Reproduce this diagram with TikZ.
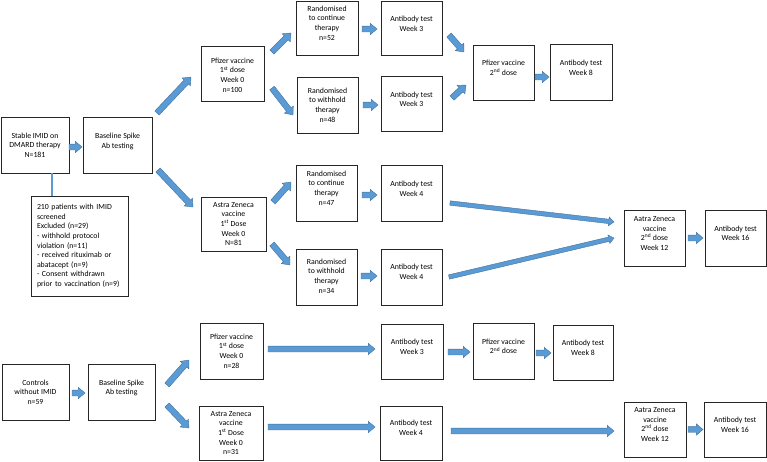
\documentclass[tikz,border=0pt]{standalone}
\usepackage{fontspec}
\setmainfont{Carlito}
\usetikzlibrary{calc,shapes.arrows}
\definecolor{arrfill}{RGB}{91,155,213}
\definecolor{arrline}{RGB}{65,113,156}
\tikzset{
  box/.style={draw=black!85, line width=0.8pt, inner sep=0pt, outer sep=0pt, font=\fontsize{7.8}{9.6}\selectfont},
  barrow/.style={single arrow, fill=arrfill, draw=arrline, line width=0.4pt, inner sep=0pt, outer sep=0pt,
    inner ysep=2.75pt, single arrow head extend=2.75pt, single arrow tip angle=80, anchor=tail},
  thinarrow/.style={inner ysep=2pt, single arrow head extend=2.2pt},
  link/.style={draw=arrfill, line width=1.3pt},
}
\newcommand\bx[7]{%
  \pgfmathsetmacro\bw{#4-#2}\pgfmathsetmacro\bh{#5-#3}%
  \node[box] (#1) at ({(#2+#4)/2},{(#3+#5)/2}) {\parbox[c][\bh pt][c]{\bw pt}{\centering #7\par\vspace{#6pt}}};}
\newcommand\blk[3][]{\path let \p1=#2, \p2=#3, \n1={atan2(\y2-\y1,\x2-\x1)}, \n2={veclen(\x2-\x1,\y2-\y1)} in node[barrow,#1,minimum height=\n2,rotate=\n1] at (\p1) {};}
\begin{document}
\begin{tikzpicture}[x=1pt,y=-1pt]
\useasboundingbox (0,0) rectangle (767,461);
% ---- top section
\bx{st}{1}{117}{69}{173}{0}{Stable IMID on\\DMARD therapy\\N=181}
\bx{bl}{83}{117}{152}{173}{7}{Baseline Spike\\Ab testing}
\node[box, minimum width=97pt, minimum height=100pt, text width=85pt, align=left] (ex) at (79.5,246)
  {210 patients with IMID\\screened\\Excluded (n=29)\\- withhold protocol\\violation (n=11)\\- received rituximab or\\abatacept (n=9)\\- Consent withdrawn\\prior to vaccination (n=9)};
\bx{pf}{201}{46}{264}{101}{-3}{Pfizer vaccine\\1\textsuperscript{st} dose\\Week 0\\n=100}
\bx{rc}{296}{1}{358}{55}{10}{Randomised\\to continue\\therapy\\n=52}
\bx{a3a}{381}{1}{442}{55}{8}{Antibody test\\Week 3}
\bx{rw}{297}{77}{358}{133}{0}{Randomised\\to withhold\\therapy\\n=48}
\bx{a3b}{381}{76}{442}{131}{8}{Antibody test\\Week 3}
\bx{p2}{473}{45}{534}{100}{9}{Pfizer vaccine\\2\textsuperscript{nd} dose}
\bx{a8}{550}{44}{612}{100}{8}{Antibody test\\Week 8}
\bx{az}{201}{197}{266}{251}{0}{Astra Zeneca\\vaccine\\1\textsuperscript{st} Dose\\Week 0\\N=81}
\bx{rc2}{296}{165}{357}{221}{10}{Randomised\\to continue\\therapy\\n=47}
\bx{a4a}{381}{165}{442}{221}{8}{Antibody test\\Week 4}
\bx{rw2}{296}{249}{357}{305}{2}{Randomised\\to withhold\\therapy\\n=34}
\bx{a4b}{381}{249}{442}{305}{10}{Antibody test\\Week 4}
\bx{az2}{624}{210}{685}{266}{9}{Aatra Zeneca\\vaccine\\2\textsuperscript{nd} dose\\Week 12}
\bx{a16}{705}{210}{766}{266}{9}{Antibody test\\Week 16}
% ---- bottom section
\bx{ct}{2}{364}{69}{420}{0}{Controls\\without IMID\\n=59}
\bx{bl2}{88}{364}{155}{420}{8}{Baseline Spike\\Ab testing}
\bx{pfb}{200}{323}{263}{379}{0}{Pfizer vaccine\\1\textsuperscript{st} dose\\Week 0\\n=28}
\bx{azb}{199}{406}{263}{460}{0}{Astra Zeneca\\vaccine\\1\textsuperscript{st} Dose\\Week 0\\n=31}
\bx{a3c}{381}{324}{443}{379}{9}{Antibody test\\Week 3}
\bx{p2b}{473}{323}{534}{379}{9}{Pfizer vaccine\\2\textsuperscript{nd} dose}
\bx{a8b}{553}{325}{613}{380}{9}{Antibody test\\Week 8}
\bx{a4c}{380}{406}{442}{460}{10}{Antibody test\\Week 4}
\bx{az2b}{624}{402}{686}{457}{10}{Aatra Zeneca\\vaccine\\2\textsuperscript{nd} dose\\Week 12}
\bx{a16b}{704}{402}{766}{457}{9}{Antibody test\\Week 16}
% ---- link to exclusion box
\draw[link] ($(st.south)+(17,0)$) -- ($(ex.north)+(-27.5,0)$);
% ---- arrows top
\blk{($(st.east)+(0,2)$)}{($(bl.west)+(-1,2)$)}
\blk{($(bl.north east)+(5,-4)$)}{($(pf.west)+(-10,3.5)$)}
\blk{($(bl.south east)+(6,-3)$)}{($(az.west)+(-8,-17)$)}
\blk{($(pf.north east)+(8,6)$)}{($(rc.west)+(-5,5)$)}
\blk{($(pf.south east)+(8,-13)$)}{($(rw.west)+(-4,10)$)}
\blk{($(rc.east)+(4,1)$)}{($(a3a.west)+(-4,1)$)}
\blk{($(rw.east)+(5,0)$)}{($(a3b.west)+(-3,1.5)$)}
\blk{($(a3a.east)+(7,7)$)}{($(p2.west)+(-9,-20.5)$)}
\blk{($(a3b.east)+(10,-5.5)$)}{($(p2.west)+(-7,12.5)$)}
\blk{($(p2.east)+(1,4.5)$)}{($(a8.west)+(-1,5)$)}
\blk{($(az.north east)+(7,5)$)}{($(rc2.west)+(-5,-11)$)}
\blk{($(az.south east)+(6,-7)$)}{($(rw2.west)+(-6,-12)$)}
\blk{($(rc2.east)+(5,2)$)}{($(a4a.west)+(-4,2)$)}
\blk{($(rw2.east)+(4,-1)$)}{($(a4b.west)+(-4,-1)$)}
\blk[thinarrow]{($(a4a.east)+(8,10)$)}{($(az2.west)+(-10,-16)$)}
\blk[thinarrow]{($(a4b.east)+(7,0)$)}{($(az2.west)+(-10,0)$)}
\blk{($(az2.east)+(3,0)$)}{($(a16.west)+(-2,0)$)}
% ---- arrows bottom
\blk{($(ct.east)+(3,1)$)}{($(bl2.west)+(-3,1)$)}
\blk{($(bl2.east)+(12,-7)$)}{($(pfb.west)+(-11,9)$)}
\blk{($(bl2.east)+(12,13)$)}{($(azb.west)+(-10,-5)$)}
\blk{($(pfb.east)+(5,-2)$)}{($(a3c.west)+(-6,-2.5)$)}
\blk{($(azb.east)+(5,-6)$)}{($(a4c.west)+(-5,-6)$)}
\blk{($(a3c.east)+(5,0.5)$)}{($(p2b.west)+(-3,1)$)}
\blk{($(p2b.east)+(2,2)$)}{($(a8b.west)+(-2,0.5)$)}
\blk{($(a4c.east)+(9,-2)$)}{($(az2b.west)+(-10,1.5)$)}
\blk{($(az2b.east)+(2,0)$)}{($(a16b.west)+(-1,0)$)}
\end{tikzpicture}
\end{document}
